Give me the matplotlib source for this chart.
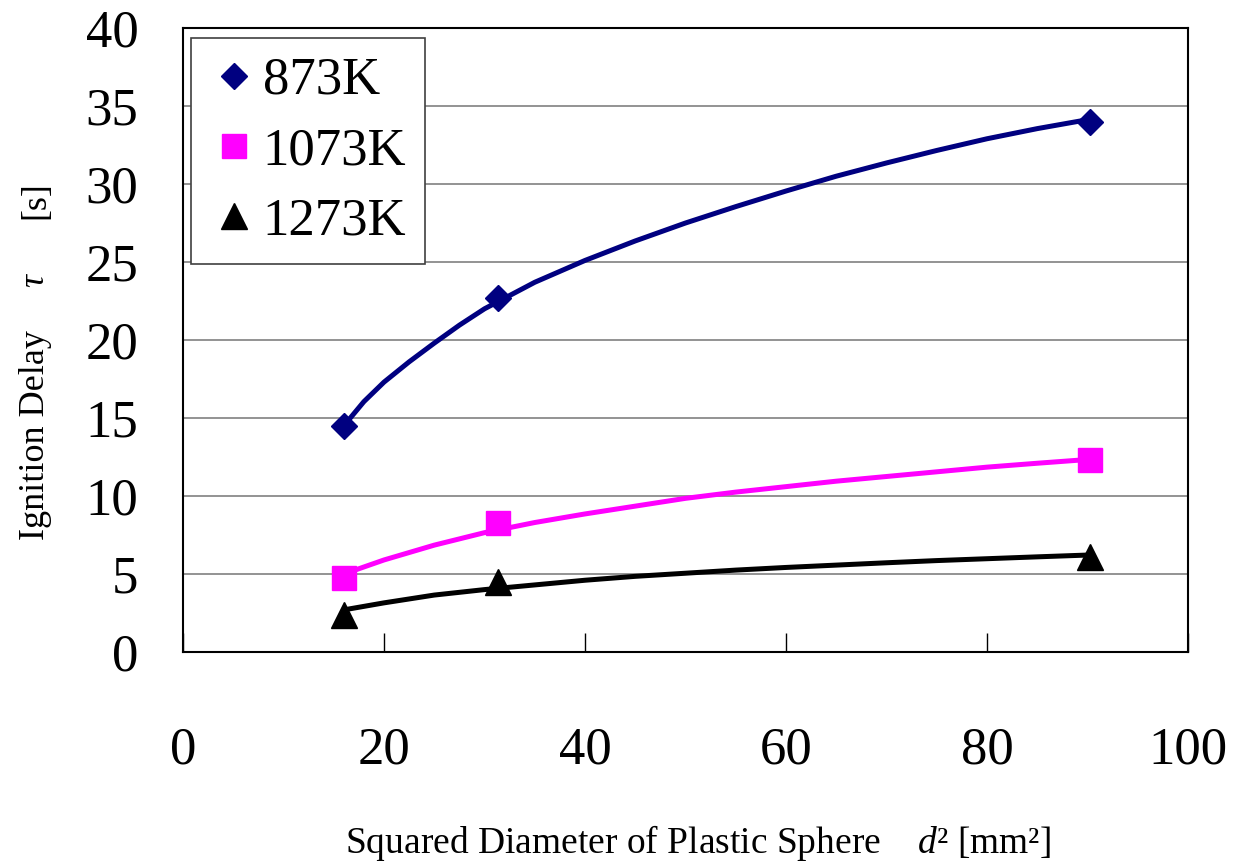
import numpy as np
import matplotlib.pyplot as plt
from matplotlib.lines import Line2D

plt.rcParams['font.family'] = ['Liberation Serif', 'DejaVu Serif']
plt.rcParams['mathtext.fontset'] = 'custom'
plt.rcParams['mathtext.rm'] = 'Liberation Serif'
plt.rcParams['mathtext.it'] = 'Liberation Serif:italic'

# measured points (d^2 = 4^2, 5.6^2, 9.5^2 mm^2)
d2 = [16, 31.36, 90.25]
tau_873 = [14.5, 22.7, 34.0]
tau_1073 = [4.74, 8.27, 12.3]
tau_1273 = [2.37, 4.5, 6.08]

# trend curves
fit_x_873 = [16, 18, 20, 22.5, 25, 27.5, 30, 35, 40, 45, 50, 55, 60, 65, 70,
             75, 80, 85, 90.25]
fit_y_873 = [14.5, 16.05, 17.3, 18.6, 19.8, 20.95, 22.0, 23.7, 25.1, 26.35,
             27.5, 28.55, 29.55, 30.5, 31.35, 32.15, 32.9, 33.55, 34.15]
fit_x_1073 = [16, 20, 25, 30, 35, 40, 45, 50, 55, 60, 65, 70, 75, 80, 85, 90.25]
fit_y_1073 = [5.0, 5.9, 6.85, 7.65, 8.3, 8.85, 9.35, 9.85, 10.25, 10.6, 10.95,
              11.25, 11.55, 11.85, 12.1, 12.35]
fit_x_1273 = [16, 20, 25, 30, 35, 40, 45, 50, 55, 60, 65, 70, 75, 80, 85, 90.25]
fit_y_1273 = [2.7, 3.15, 3.65, 4.0, 4.3, 4.6, 4.85, 5.05, 5.25, 5.42, 5.57,
              5.72, 5.86, 5.98, 6.1, 6.22]

labels = ['873K', '1073K', '1273K']
colors = ['#000080', '#FF00FF', 'black']
markers = ['D', 's', '^']
msizes = [13.5, 17, 19]

fig = plt.figure(figsize=(12.34, 8.65), dpi=100)
ax = fig.add_axes([183/1234, 1 - 652/865, 1005/1234, 624/865])

series = [(fit_x_873, fit_y_873, tau_873),
          (fit_x_1073, fit_y_1073, tau_1073),
          (fit_x_1273, fit_y_1273, tau_1273)]
for (fx, fy, ty), c, m, ms in zip(series, colors, markers, msizes):
    ax.plot(fx, fy, color=c, lw=3.6, solid_capstyle='butt',
            solid_joinstyle='round', zorder=3)
    ax.plot(d2, ty, ls='none', marker=m, ms=ms, color=c, mec=c, zorder=4)

ax.set_xlim(0, 100)
ax.set_ylim(0, 40)
ax.set_xticks(np.arange(0, 101, 20))
ax.set_yticks(np.arange(0, 41, 5))
for y in range(5, 40, 5):
    ax.axhline(y, color='#808080', lw=1.2, zorder=1)

ax.tick_params(axis='x', direction='in', length=14, width=1, pad=54,
               labelsize=38, top=False)
ax.tick_params(axis='y', length=0, pad=32, labelsize=38)
for s in ax.spines.values():
    s.set_linewidth(1.5)
    s.set_color('black')

handles = [Line2D([], [], ls='none', marker=m, ms=ms, color=c, mec=c)
           for c, m, ms in zip(colors, markers, msizes)]
leg = ax.legend(handles, labels, loc='upper left', bbox_to_anchor=(0.008, 0.984),
                borderaxespad=0, fontsize=38, frameon=True, fancybox=False,
                framealpha=1, edgecolor='#404040', handlelength=0.9,
                handletextpad=0.1, labelspacing=0.42, borderpad=0.36)
leg.get_frame().set_linewidth(1.2)

# axis titles
fig.text(698/1234, 1 - 843/865, 'Squared Diameter of Plastic Sphere    $d$² [mm²]',
         fontsize=27, ha='center', va='center')
fig.text(44/1234, 1 - 435/865, 'Ignition Delay', fontsize=26, rotation=90,
         rotation_mode='anchor', ha='center', va='baseline')
fig.text(44/1234, 1 - 280/865, r'$\tau$', fontsize=26, rotation=90,
         rotation_mode='anchor', ha='center', va='baseline')
fig.text(44/1234, 1 - 200/865, '[s]', fontsize=26, rotation=90,
         rotation_mode='anchor', ha='center', va='baseline')

fig.savefig('out.png', dpi=100)
